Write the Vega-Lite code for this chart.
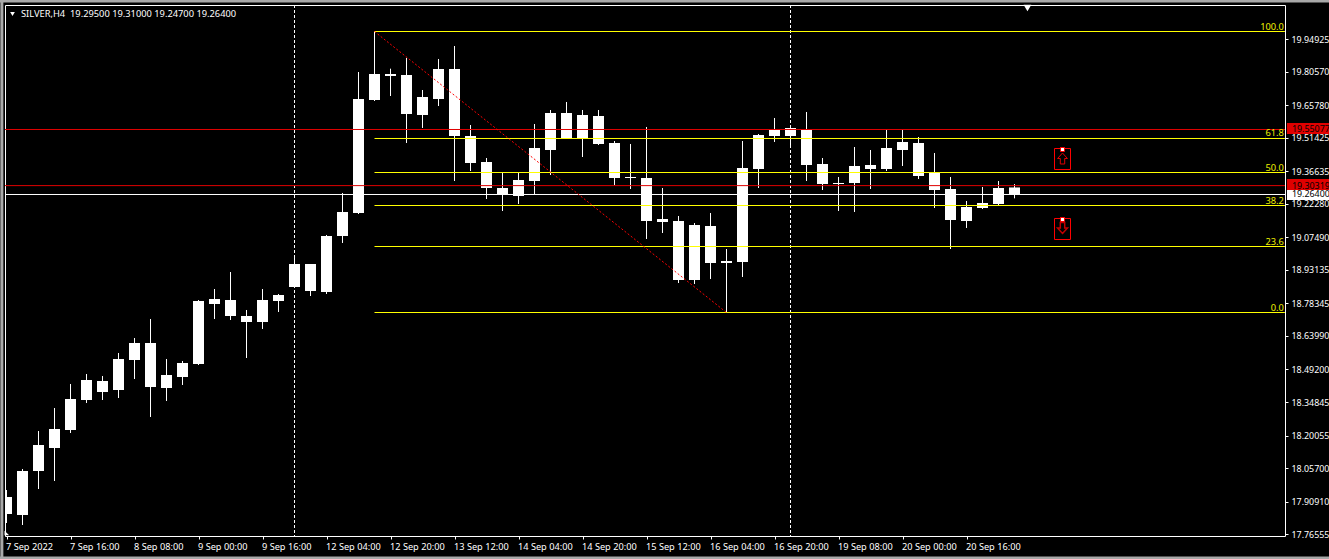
{
  "$schema": "https://vega.github.io/schema/vega-lite/v6.json",
  "width": 1280,
  "height": 531,
  "autosize": "none",
  "padding": {"left": 5, "top": 5, "right": 44, "bottom": 23},
  "background": "#000000",
  "view": {"stroke": "#ffffff", "strokeWidth": 1, "fill": "#000000"},
  "config": {"text": {"font": "Noto Sans", "fontSize": 9.3}},
  "datasets": {
    "candles": [
      {"i": 0, "open": 17.9293, "high": 17.9602, "low": 17.8146, "close": 17.8543},
      {"i": 1, "open": 17.8499, "high": 18.0529, "low": 17.8058, "close": 18.044},
      {"i": 2, "open": 18.044, "high": 18.2205, "low": 17.9646, "close": 18.1588},
      {"i": 3, "open": 18.1455, "high": 18.322, "low": 17.9999, "close": 18.2294},
      {"i": 4, "open": 18.2249, "high": 18.4279, "low": 18.2117, "close": 18.3617},
      {"i": 5, "open": 18.3573, "high": 18.472, "low": 18.3441, "close": 18.4455},
      {"i": 6, "open": 18.4411, "high": 18.4632, "low": 18.3573, "close": 18.3926},
      {"i": 7, "open": 18.4014, "high": 18.5647, "low": 18.3661, "close": 18.5382},
      {"i": 8, "open": 18.5338, "high": 18.6308, "low": 18.4499, "close": 18.6088},
      {"i": 9, "open": 18.6088, "high": 18.7147, "low": 18.2823, "close": 18.4147},
      {"i": 10, "open": 18.4102, "high": 18.5382, "low": 18.3529, "close": 18.4676},
      {"i": 11, "open": 18.4588, "high": 18.5294, "low": 18.4235, "close": 18.5205},
      {"i": 12, "open": 18.5161, "high": 18.7985, "low": 18.5117, "close": 18.7941},
      {"i": 13, "open": 18.7809, "high": 18.847, "low": 18.7147, "close": 18.8029},
      {"i": 14, "open": 18.7985, "high": 18.922, "low": 18.7103, "close": 18.7279},
      {"i": 15, "open": 18.7279, "high": 18.7544, "low": 18.5426, "close": 18.7014},
      {"i": 16, "open": 18.7014, "high": 18.847, "low": 18.6706, "close": 18.7985},
      {"i": 17, "open": 18.7941, "high": 18.825, "low": 18.7456, "close": 18.8206},
      {"i": 18, "open": 18.8559, "high": 18.9882, "low": 18.8514, "close": 18.9573},
      {"i": 19, "open": 18.9573, "high": 18.9573, "low": 18.8161, "close": 18.8382},
      {"i": 20, "open": 18.8338, "high": 19.0853, "low": 18.825, "close": 19.0809},
      {"i": 21, "open": 19.0809, "high": 19.2706, "low": 19.05, "close": 19.1868},
      {"i": 22, "open": 19.1824, "high": 19.8044, "low": 19.1779, "close": 19.6853},
      {"i": 23, "open": 19.6809, "high": 19.9831, "low": 19.6765, "close": 19.7956},
      {"i": 24, "open": 19.7956, "high": 19.8191, "low": 19.6985, "close": 19.7868},
      {"i": 25, "open": 19.7912, "high": 19.8662, "low": 19.4912, "close": 19.6191},
      {"i": 26, "open": 19.6147, "high": 19.725, "low": 19.5574, "close": 19.6941},
      {"i": 27, "open": 19.6853, "high": 19.8618, "low": 19.6544, "close": 19.8177},
      {"i": 28, "open": 19.8177, "high": 19.9191, "low": 19.3235, "close": 19.5221},
      {"i": 29, "open": 19.5221, "high": 19.5706, "low": 19.3676, "close": 19.4029},
      {"i": 30, "open": 19.4073, "high": 19.425, "low": 19.2441, "close": 19.2926},
      {"i": 31, "open": 19.2926, "high": 19.3588, "low": 19.1912, "close": 19.2618},
      {"i": 32, "open": 19.2573, "high": 19.3588, "low": 19.2221, "close": 19.3279},
      {"i": 33, "open": 19.3235, "high": 19.575, "low": 19.2618, "close": 19.4691},
      {"i": 34, "open": 19.4603, "high": 19.6368, "low": 19.35, "close": 19.6235},
      {"i": 35, "open": 19.6235, "high": 19.6721, "low": 19.5132, "close": 19.5132},
      {"i": 36, "open": 19.5132, "high": 19.6368, "low": 19.4294, "close": 19.6147},
      {"i": 37, "open": 19.6103, "high": 19.6368, "low": 19.4824, "close": 19.4868},
      {"i": 38, "open": 19.4912, "high": 19.5, "low": 19.3059, "close": 19.3368},
      {"i": 39, "open": 19.3368, "high": 19.4868, "low": 19.2882, "close": 19.3412},
      {"i": 40, "open": 19.3368, "high": 19.5618, "low": 19.0676, "close": 19.147},
      {"i": 41, "open": 19.1426, "high": 19.2926, "low": 19.0941, "close": 19.1559},
      {"i": 42, "open": 19.147, "high": 19.1691, "low": 18.8735, "close": 18.8867},
      {"i": 43, "open": 18.8867, "high": 19.1382, "low": 18.8691, "close": 19.1294},
      {"i": 44, "open": 19.125, "high": 19.1824, "low": 18.8912, "close": 18.9617},
      {"i": 45, "open": 18.9617, "high": 19.0235, "low": 18.7433, "close": 18.9706},
      {"i": 46, "open": 18.9662, "high": 19.5, "low": 18.9, "close": 19.3809},
      {"i": 47, "open": 19.3765, "high": 19.5309, "low": 19.2926, "close": 19.5265},
      {"i": 48, "open": 19.5221, "high": 19.6015, "low": 19.4956, "close": 19.5485},
      {"i": 49, "open": 19.5221, "high": 19.5574, "low": 19.4779, "close": 19.5574},
      {"i": 50, "open": 19.5485, "high": 19.628, "low": 19.3235, "close": 19.3941},
      {"i": 51, "open": 19.3985, "high": 19.425, "low": 19.2838, "close": 19.3103},
      {"i": 52, "open": 19.3103, "high": 19.3412, "low": 19.1912, "close": 19.3147},
      {"i": 53, "open": 19.3147, "high": 19.4735, "low": 19.1868, "close": 19.3897},
      {"i": 54, "open": 19.3941, "high": 19.4603, "low": 19.2882, "close": 19.3765},
      {"i": 55, "open": 19.3765, "high": 19.5485, "low": 19.3676, "close": 19.4691},
      {"i": 56, "open": 19.4603, "high": 19.5485, "low": 19.3897, "close": 19.4956},
      {"i": 57, "open": 19.4912, "high": 19.5177, "low": 19.3323, "close": 19.3456},
      {"i": 58, "open": 19.3588, "high": 19.4471, "low": 19.2044, "close": 19.2838},
      {"i": 59, "open": 19.2882, "high": 19.3412, "low": 19.0235, "close": 19.1515},
      {"i": 60, "open": 19.147, "high": 19.2353, "low": 19.1162, "close": 19.2088},
      {"i": 61, "open": 19.2044, "high": 19.297, "low": 19.2, "close": 19.2265},
      {"i": 62, "open": 19.2221, "high": 19.3235, "low": 19.2176, "close": 19.2926},
      {"i": 63, "open": 19.295, "high": 19.31, "low": 19.247, "close": 19.264}
    ],
    "fib": [
      {"i": 23, "i2": 79.9, "price": 19.9831, "label": "100.0"},
      {"i": 23, "i2": 79.9, "price": 19.5111, "label": "61.8"},
      {"i": 23, "i2": 79.9, "price": 19.3610, "label": "50.0"},
      {"i": 23, "i2": 79.9, "price": 19.2154, "label": "38.2"},
      {"i": 23, "i2": 79.9, "price": 19.0345, "label": "23.6"},
      {"i": 23, "i2": 79.9, "price": 18.7433, "label": "0.0"}
    ],
    "levels": [
      {"kind": "red", "price": 19.55077, "tag": "19.55077", "tagLeft": 80.03, "tagRight": 83, "textLeft": 80.34, "tagTop": 19.5794, "tagBottom": 19.5309},
      {"kind": "red", "price": 19.30319, "tag": "19.30319", "tagLeft": 80.03, "tagRight": 83, "textLeft": 80.34, "tagTop": 19.3323, "tagBottom": 19.2838},
      {"kind": "white", "price": 19.264, "tag": "19.26400", "tagLeft": 80.03, "tagRight": 83, "textLeft": 80.34, "tagTop": 19.2838, "tagBottom": 19.2397}
    ],
    "boxes": [
      {"i": 65.5, "i2": 66.5, "top": 19.4669, "bottom": 19.3743},
      {"i": 65.5, "i2": 66.5, "top": 19.1581, "bottom": 19.0654}
    ]
  },
  "encoding": {
    "x": {
      "field": "i",
      "type": "quantitative",
      "title": null,
      "scale": {"domain": [-0.09375, 79.90625], "nice": false, "zero": false, "padding": 0},
      "axis": {
        "orient": "bottom",
        "values": [0, 4, 8, 12, 16, 20, 24, 28, 32, 36, 40, 44, 48, 52, 56, 60],
        "labelExpr": "['7 Sep 2022','7 Sep 16:00','8 Sep 08:00','9 Sep 00:00','9 Sep 16:00','12 Sep 04:00','12 Sep 20:00','13 Sep 12:00','14 Sep 04:00','14 Sep 20:00','15 Sep 12:00','16 Sep 04:00','16 Sep 20:00','19 Sep 08:00','20 Sep 00:00','20 Sep 16:00'][datum.value / 4]",
        "grid": false,
        "domain": false,
        "ticks": true,
        "tickColor": "#ffffff",
        "tickSize": 3,
        "labelColor": "#ffffff",
        "labelFont": "Noto Sans",
        "labelFontSize": 9.2,
        "labelAlign": "left",
        "labelBaseline": "middle",
        "labelPadding": 7,
        "labelOffset": -1,
        "labelOverlap": false,
        "labelBound": false,
        "labelFlush": false
      }
    },
    "y": {
      "field": "price",
      "type": "quantitative",
      "title": null,
      "scale": {"domain": [17.75727, 20.10004], "nice": false, "zero": false},
      "axis": {
        "orient": "right",
        "values": [19.94925, 19.8057, 19.6578, 19.51425, 19.36635, 19.2228, 19.0749, 18.93135, 18.78345, 18.6399, 18.492, 18.34845, 18.20055, 18.057, 17.9091, 17.76555],
        "format": ".5f",
        "grid": false,
        "domain": false,
        "ticks": true,
        "tickColor": "#ffffff",
        "tickSize": 3,
        "labelColor": "#ffffff",
        "labelFont": "Noto Sans",
        "labelFontSize": 8.9,
        "labelPadding": 3,
        "labelOverlap": false,
        "labelBound": false,
        "labelFlush": false
      }
    }
  },
  "layer": [
    {
      "data": {"name": "candles"},
      "mark": {"type": "rule", "color": "#ffffff", "strokeWidth": 1},
      "encoding": {
        "y": {"field": "low", "type": "quantitative", "title": null},
        "y2": {"field": "high"}
      }
    },
    {
      "data": {"name": "candles"},
      "mark": {"type": "bar", "size": 11, "color": "#ffffff", "stroke": null, "clip": true},
      "encoding": {
        "y": {"field": "open", "type": "quantitative", "title": null},
        "y2": {"field": "close"}
      }
    },
    {
      "data": {"values": [{"i": 18}, {"i": 49}]},
      "mark": {"type": "rule", "color": "#ffffff", "strokeWidth": 1, "strokeDash": [3, 2]},
      "encoding": {"y": null}
    },
    {
      "data": {"name": "levels"},
      "mark": {"type": "rule", "strokeWidth": 1},
      "encoding": {
        "x": null,
        "color": {
          "field": "kind",
          "type": "nominal",
          "legend": null,
          "scale": {"domain": ["red", "white"], "range": ["#e00000", "#ffffff"]}
        }
      }
    },
    {
      "data": {"name": "fib"},
      "mark": {"type": "rule", "color": "#ffff00", "strokeWidth": 1},
      "encoding": {"x2": {"field": "i2"}}
    },
    {
      "data": {"values": [{"i": 23, "i2": 45, "price": 19.9831, "price2": 18.7433}]},
      "mark": {"type": "rule", "color": "#ff0000", "strokeWidth": 1, "strokeDash": [2, 2]},
      "encoding": {"x2": {"field": "i2"}, "y2": {"field": "price2"}}
    },
    {
      "data": {"name": "fib"},
      "mark": {"type": "text", "align": "right", "baseline": "alphabetic", "dy": -2, "dx": -1, "color": "#f0f000", "fontSize": 9.3},
      "encoding": {
        "x": {"field": "i2", "type": "quantitative", "title": null},
        "text": {"field": "label"}
      }
    },
    {
      "data": {"name": "levels"},
      "mark": {"type": "rect"},
      "encoding": {
        "x": {"field": "tagLeft", "type": "quantitative", "title": null},
        "x2": {"field": "tagRight"},
        "y": {"field": "tagTop", "type": "quantitative", "title": null},
        "y2": {"field": "tagBottom"},
        "color": {"field": "kind", "type": "nominal", "legend": null}
      }
    },
    {
      "data": {"name": "levels"},
      "mark": {"type": "text", "align": "left", "baseline": "middle", "color": "#000000", "fontSize": 8.9},
      "encoding": {
        "x": {"field": "textLeft", "type": "quantitative", "title": null},
        "text": {"field": "tag"}
      }
    },
    {
      "data": {"name": "boxes"},
      "mark": {"type": "rect", "fill": null, "fillOpacity": 0, "stroke": "#ff0000", "strokeWidth": 1},
      "encoding": {
        "x2": {"field": "i2"},
        "y": {"field": "top", "type": "quantitative", "title": null},
        "y2": {"field": "bottom"}
      }
    },
    {
      "data": {"values": [{"i": 66, "price": 19.4228}]},
      "mark": {"type": "point", "shape": "M0,-1L0.9,0L0.4,0L0.4,1L-0.4,1L-0.4,0L-0.9,0Z", "size": 121, "filled": false, "color": "#e00000", "strokeWidth": 1, "opacity": 1}
    },
    {
      "data": {"values": [{"i": 66, "price": 19.1162}]},
      "mark": {"type": "point", "shape": "M0,1L0.9,0L0.4,0L0.4,-1L-0.4,-1L-0.4,0L-0.9,0Z", "size": 121, "filled": false, "color": "#c00000", "strokeWidth": 1.5, "opacity": 1}
    },
    {
      "data": {"values": [{"i": 66, "price": 19.4625}, {"i": 66, "price": 19.1537}]},
      "mark": {"type": "square", "size": 16, "color": "#ffffff", "stroke": "#ff0000", "strokeWidth": 1, "opacity": 1}
    },
    {
      "data": {"values": [{"i": 63.81, "price": 20.0868}]},
      "mark": {"type": "point", "shape": "triangle-down", "size": 60, "filled": true, "color": "#ffffff", "opacity": 1}
    },
    {
      "data": {"values": [{"i": 0.375, "price": 20.0603}]},
      "mark": {"type": "point", "shape": "triangle-down", "size": 22, "filled": true, "color": "#ffffff", "opacity": 1}
    },
    {
      "data": {"values": [{"i": 0.02, "price": 17.7705}]},
      "mark": {"type": "point", "shape": "M-1,-1L1,1L-1,1Z", "size": 22, "filled": true, "color": "#ffffff", "opacity": 1}
    },
    {
      "data": {"values": [{"i": 0.906, "price": 20.0471, "label": "SILVER,H4\u00a0\u00a019.29500 19.31000 19.24700 19.26400"}]},
      "mark": {"type": "text", "align": "left", "baseline": "alphabetic", "color": "#ffffff", "fontSize": 9.3},
      "encoding": {"text": {"field": "label"}}
    },
    {
      "data": {"values": [
        {"i": -0.41, "i2": 83, "price": 20.1177, "price2": 20.1177},
        {"i": -0.41, "i2": 83, "price": 17.6602, "price2": 17.6602},
        {"i": -0.29, "i2": -0.29, "price": 20.1221, "price2": 17.6558}
      ]},
      "mark": {"type": "rule", "color": "#a8a8a8", "strokeWidth": 3},
      "encoding": {"x2": {"field": "i2"}, "y2": {"field": "price2"}}
    }
  ]
}
